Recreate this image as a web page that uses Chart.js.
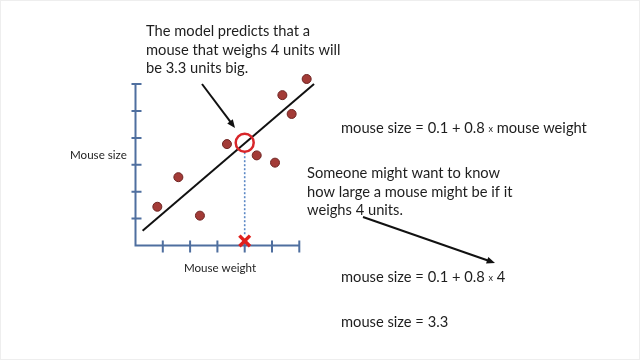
<!DOCTYPE html>
<html>
<head>
<meta charset="utf-8">
<script src="https://cdn.jsdelivr.net/npm/chart.js@4/dist/chart.umd.min.js"></script>
<style>
  html, body { margin: 0; padding: 0; background: #fff; }
  #wrap { width: 640px; height: 360px; position: relative; }
</style>
</head>
<body>
<div id="wrap"><canvas id="chart"></canvas></div>
<script>
// data
const weights = [0.80, 1.57, 2.36, 3.35, 4.44, 5.11, 5.38, 5.72, 6.27];
const sizes = [1.44, 2.54, 1.11, 3.77, 3.35, 3.08, 5.59, 4.89, 6.19];
const fitX = [0.26, 6.54];
const fitY = [0.55, 6.0];
const askWeight = 4;
const predictedSize = 3.82;
const axisTicks = [1, 2, 3, 4, 5, 6];

const FONT = 'Lato, "Open Sans", sans-serif';
const axisColor = '#4f6f9f';
const textSize = 14.7;

//axes drawn with tick marks crossing the line
const axesPlugin = {
	id: 'crossAxes',
	beforeDatasetsDraw(chart) {
		const { ctx, scales: { x, y } } = chart;
		const x0 = x.getPixelForValue(0);
		const y0 = y.getPixelForValue(0);
		ctx.save();
		ctx.strokeStyle = axisColor;
		ctx.lineWidth = 2;
		ctx.beginPath();
		ctx.moveTo(x0, y.getPixelForValue(6));
		ctx.lineTo(x0, y0);
		ctx.lineTo(x.getPixelForValue(6), y0);
		axisTicks.forEach((t) => {
			const px = x.getPixelForValue(t);
			ctx.moveTo(px, y0 - 5);
			ctx.lineTo(px, y0 + 7);
			const py = y.getPixelForValue(t);
			ctx.moveTo(x0 - 4, py);
			ctx.lineTo(x0 + 6, py);
		});
		ctx.stroke();
		ctx.restore();
	}
};

function arrow(ctx, x1, y1, x2, y2) {
	const a = Math.atan2(y2 - y1, x2 - x1);
	const h = 9;
	ctx.beginPath();
	ctx.moveTo(x1, y1);
	ctx.lineTo(x2 - Math.cos(a) * 6, y2 - Math.sin(a) * 6);
	ctx.stroke();
	ctx.beginPath();
	ctx.moveTo(x2, y2);
	ctx.lineTo(x2 - h * Math.cos(a - 0.4), y2 - h * Math.sin(a - 0.4));
	ctx.lineTo(x2 - h * Math.cos(a + 0.4), y2 - h * Math.sin(a + 0.4));
	ctx.closePath();
	ctx.fill();
}

// draw "a + b x c" with a small x
function formula(ctx, x, y, left, right) {
	ctx.font = textSize + 'px ' + FONT;
	ctx.fillText(left, x, y);
	let w = ctx.measureText(left).width;
	ctx.font = '9px ' + FONT;
	ctx.fillText('x', x + w, y + 1);
	w += ctx.measureText('x').width;
	ctx.font = textSize + 'px ' + FONT;
	w += ctx.measureText(' ').width;
	ctx.fillText(right, x + w, y);
}

//slide text and arrows
const notesPlugin = {
	id: 'notes',
	afterDraw(chart) {
		const ctx = chart.ctx;
		ctx.save();
		ctx.strokeStyle = '#eeeeee';
		ctx.lineWidth = 1;
		ctx.strokeRect(0.5, 0.5, 639, 359);

		ctx.fillStyle = '#1e1e1e';
		ctx.textBaseline = 'middle';
		ctx.font = textSize + 'px ' + FONT;
		ctx.fillText('The model predicts that a', 146, 31);
		ctx.fillText('mouse that weighs 4 units will', 146, 50);
		ctx.fillText('be 3.3 units big.', 146, 68);

		ctx.fillText('Someone might want to know', 307, 173);
		ctx.fillText('how large a mouse might be if it', 307, 192);
		ctx.fillText('weighs 4 units.', 307, 210);

		formula(ctx, 341, 128, 'mouse size = 0.1 + 0.8 ', 'mouse weight');
		formula(ctx, 341, 277, 'mouse size = 0.1 + 0.8 ', '4');
		ctx.font = textSize + 'px ' + FONT;
		ctx.fillText('mouse size = 3.3', 341, 322);

		ctx.font = '11.6px ' + FONT;
		ctx.fillText('Mouse size', 70, 155);
		ctx.textAlign = 'center';
		ctx.fillText('Mouse weight', 220, 268);

		ctx.strokeStyle = '#111';
		ctx.fillStyle = '#111';
		ctx.lineWidth = 2;
		arrow(ctx, 202, 84, 235, 128);
		arrow(ctx, 363, 217, 495, 263);
		ctx.restore();
	}
};

const ctx = document.querySelector('#chart').getContext('2d');
const chart = new Chart(ctx, {
	type: 'scatter',
	data: {
		datasets: [
			{
				type: 'line',
				data: fitX.map((v, i) => ({ x: v, y: fitY[i] })),
				borderColor: '#111',
				borderWidth: 2,
				pointRadius: 0,
				order: 3
			},
			{
				type: 'line',
				data: [ { x: askWeight, y: 0.42 }, { x: askWeight, y: predictedSize - 0.34 } ],
				borderColor: '#5b87c5',
				borderWidth: 1.6,
				borderDash: [ 2, 2 ],
				pointRadius: 0,
				order: 4
			},
			{
				data: weights.map((v, i) => ({ x: v, y: sizes[i] })),
				backgroundColor: '#a33b37',
				borderColor: '#6e2422',
				borderWidth: 1,
				pointRadius: 4.5,
				order: 2
			},
			{
				data: [ { x: askWeight, y: predictedSize } ],
				backgroundColor: 'rgba(0,0,0,0)',
				borderColor: '#d8262a',
				borderWidth: 2.5,
				pointRadius: 9,
				order: 1
			},
			{
				data: [ { x: askWeight, y: 0.17 } ],
				pointStyle: 'crossRot',
				borderColor: '#e0201c',
				borderWidth: 3.5,
				pointRadius: 7.5,
				order: 0
			}
		]
	},
	options: {
		responsive: true,
		maintainAspectRatio: false,
		animation: false,
		clip: false,
		layout: {
			padding: { left: 135.5, right: 313.4, top: 57.2, bottom: 114.5 }
		},
		scales: {
			x: { type: 'linear', min: 0, max: 7, display: false },
			y: { type: 'linear', min: 0, max: 7, display: false }
		},
		plugins: {
			legend: { display: false },
			tooltip: { enabled: false }
		}
	},
	plugins: [ axesPlugin, notesPlugin ]
});
</script>
</body>
</html>
